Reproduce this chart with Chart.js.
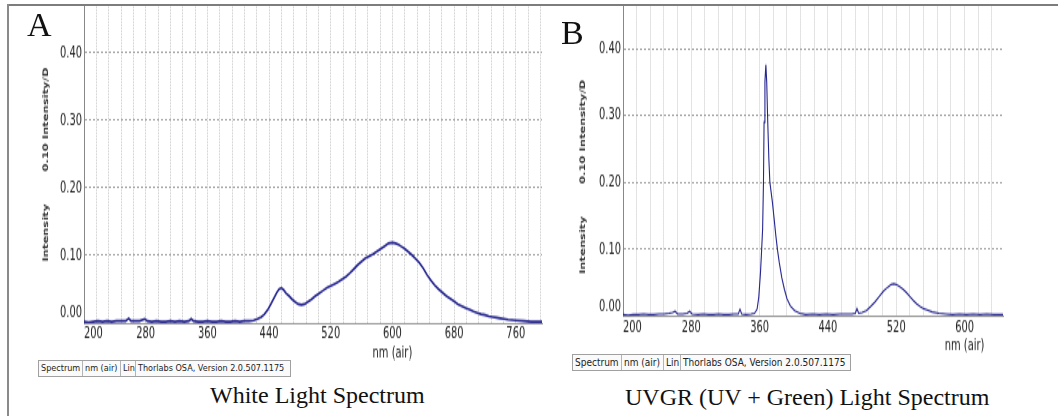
<!DOCTYPE html>
<html>
<head>
<meta charset="utf-8">
<script src="https://cdn.jsdelivr.net/npm/chart.js@4.4.1/dist/chart.umd.min.js"></script>
<style>
  body { margin: 0; background: #fff; width: 1058px; height: 416px; overflow: hidden; position: relative; }
  .frame-top { position: absolute; left: 7px; top: 4px; width: 1051px; height: 2px; background: #7d7d7d; z-index: 5; }
  .frame-left { position: absolute; left: 7px; top: 4px; width: 2px; height: 412px; background: #8a8a8a; z-index: 5; }
  /* the original screenshot of the OSA software is stretched vertically */
  .plot { position: absolute; top: 5px; height: 237px; transform: scaleY(1.5); transform-origin: 0 0; }
  #plotA { left: 8px; width: 542px; }
  #plotB { left: 548px; width: 463px; }
  .letter { position: absolute; font: 34px/34px 'Liberation Serif', 'Times New Roman', serif; color: #111; }
  .caption { position: absolute; font: 24px/24px 'Liberation Serif', 'Times New Roman', serif; color: #111; white-space: nowrap; }
  .info { position: absolute; display: flex; height: 17px; box-sizing: border-box; border: 1px solid #a0a0a0; background: #fafafa;
          font-family: 'DejaVu Sans Condensed', 'Liberation Sans', sans-serif; color: #222; }
  .info span { box-sizing: border-box; border-left: 1px solid #b4b4b4; padding-left: 2px; line-height: 15px; white-space: nowrap; overflow: hidden; }
  .info span:first-child { border-left: none; }
  #infoA { left: 38px; top: 360px; font-size: 9px; }
  #infoB { left: 572px; top: 354px; font-size: 10px; }
</style>
</head>
<body>
<div class="plot" id="plotA"><canvas id="chartA"></canvas></div>
<div class="plot" id="plotB"><canvas id="chartB"></canvas></div>
<div class="frame-top"></div>
<div class="frame-left"></div>

<div class="letter" style="left:27px; top:8px;">A</div>
<div class="letter" style="left:561px; top:16px;">B</div>

<div class="info" id="infoA"><span style="width:43px">Spectrum</span><span style="width:38px">nm (air)</span><span style="width:15px">Lin</span><span style="width:155px">Thorlabs OSA, Version 2.0.507.1175</span></div>
<div class="info" id="infoB"><span style="width:48px">Spectrum</span><span style="width:42px">nm (air)</span><span style="width:17px">Lin</span><span style="width:170px">Thorlabs OSA, Version 2.0.507.1175</span></div>

<div class="caption" style="left:210px; top:383px;">White Light Spectrum</div>
<div class="caption" style="left:625px; top:385px;">UVGR (UV + Green) Light Spectrum</div>

<script>
// --- DATA ---
const whiteNm = [200, 206, 212, 218, 224, 230, 236, 242, 248, 254, 258, 261, 266, 272, 279, 282, 288, 294, 300, 306,
  312, 318, 324, 330, 336, 339, 342, 348, 354, 360, 366, 372, 378, 384, 390, 396, 402, 408, 414, 420,
  425, 430, 434, 438, 442, 446, 450, 453, 456, 459, 462, 466, 470, 474, 478, 482, 486, 490, 495, 500,
  505, 510, 515, 520, 525, 530, 535, 540, 545, 550, 555, 560, 565, 570, 575, 580, 585, 590, 595, 600,
  604, 608, 612, 616, 620, 625, 630, 635, 640, 645, 650, 655, 660, 665, 670, 675, 680, 685, 690, 695,
  700, 705, 710, 715, 720, 725, 730, 735, 740, 745, 750, 760, 770, 780, 794];
const whiteIntensity = [0.002, 0.001, 0.002, 0.003, 0.002, 0.003, 0.002, 0.003, 0.003, 0.003, 0.007, 0.003, 0.003, 0.003, 0.006, 0.003, 0.002, 0.003, 0.002, 0.002,
  0.003, 0.002, 0.003, 0.002, 0.003, 0.006, 0.003, 0.002, 0.002, 0.003, 0.002, 0.002, 0.003, 0.002, 0.002, 0.003, 0.002, 0.003, 0.003, 0.004,
  0.006, 0.009, 0.013, 0.019, 0.027, 0.036, 0.045, 0.050, 0.052, 0.049, 0.044, 0.040, 0.035, 0.031, 0.028, 0.027, 0.028, 0.031, 0.035, 0.040,
  0.044, 0.048, 0.052, 0.055, 0.058, 0.061, 0.065, 0.069, 0.074, 0.080, 0.086, 0.091, 0.096, 0.099, 0.102, 0.106, 0.110, 0.114, 0.118, 0.119,
  0.118, 0.116, 0.113, 0.110, 0.106, 0.101, 0.095, 0.089, 0.081, 0.071, 0.063, 0.056, 0.050, 0.045, 0.040, 0.036, 0.032, 0.028, 0.025, 0.022,
  0.020, 0.017, 0.015, 0.013, 0.012, 0.010, 0.009, 0.008, 0.007, 0.006, 0.005, 0.004, 0.003, 0.002, 0.002];

const uvgrNm = [200, 206, 212, 218, 224, 230, 236, 242, 248, 254, 258, 261, 264, 270, 275, 278, 281, 288, 294, 300,
  306, 312, 318, 324, 330, 335, 337, 339, 344, 350, 354, 357, 359, 361, 362, 363.5, 364.5, 365.2, 366.2, 367.3,
  368.3, 369.5, 370.8, 372, 373.5, 375, 377, 379, 381, 383, 386, 389, 392, 396, 401, 407, 414, 422, 430, 438,
  446, 454, 462, 468, 472, 474, 476, 480, 485, 490, 495, 500, 505, 510, 514, 517, 520, 524, 528, 532,
  536, 540, 544, 548, 552, 556, 562, 570, 578, 586, 594, 602, 610, 618, 626, 634, 645];
const uvgrIntensity = [0.002, 0.001, 0.002, 0.002, 0.003, 0.002, 0.002, 0.003, 0.003, 0.004, 0.005, 0.007, 0.003, 0.003, 0.004, 0.007, 0.003, 0.002, 0.003, 0.002,
  0.002, 0.003, 0.002, 0.002, 0.003, 0.003, 0.010, 0.003, 0.002, 0.003, 0.004, 0.010, 0.028, 0.065, 0.090, 0.130, 0.200, 0.290, 0.350, 0.376,
  0.350, 0.290, 0.235, 0.200, 0.185, 0.170, 0.145, 0.120, 0.098, 0.080, 0.057, 0.040, 0.026, 0.015, 0.008, 0.004, 0.002, 0.003, 0.002, 0.003,
  0.002, 0.003, 0.003, 0.003, 0.004, 0.011, 0.004, 0.005, 0.008, 0.014, 0.021, 0.029, 0.037, 0.043, 0.047, 0.048, 0.047, 0.044, 0.040, 0.035,
  0.029, 0.023, 0.018, 0.014, 0.011, 0.009, 0.006, 0.004, 0.003, 0.002, 0.003, 0.002, 0.003, 0.002, 0.003, 0.002, 0.002];

const yTickValues = [0, 0.1, 0.2, 0.3, 0.4];
const xTickLabels = [200, 280, 360, 440, 520, 600, 680, 760];
const xGridStep = 16;

// --- STYLE ---
const lineColor = '#26268f';
const tickFamily = "'DejaVu Sans Condensed', 'Liberation Sans', sans-serif";
const tickSize = 11;
const yTitle = 'Intensity' + ' '.repeat(8) + '0.10 Intensity/D';

// draws the "nm (air)" unit under the 600 tick, like the OSA software does
const unitLabel = {
  id: 'unitLabel',
  afterDraw(chart) {
    const { ctx, chartArea, scales } = chart;
    ctx.save();
    ctx.font = `${tickSize}px ${tickFamily}`;
    ctx.fillStyle = '#222';
    ctx.textAlign = 'center';
    ctx.textBaseline = 'middle';
    ctx.fillText('nm (air)', scales.x.getPixelForValue(600), chartArea.bottom + 20);
    ctx.restore();
  }
};

function makeSpectrumChart(canvasId, nm, intensity, o) {
  const gridValues = [];
  for (let v = xTickLabels[0]; v < o.xMax; v += xGridStep) gridValues.push(v);

  return new Chart(document.getElementById(canvasId), {
    type: 'line',
    data: {
      datasets: [{
        data: nm.map((x, i) => ({ x, y: intensity[i] })),
        borderColor: lineColor,
        borderWidth: o.lineWidth,
        pointRadius: 0,
        tension: 0,
        fill: false
      }]
    },
    options: {
      responsive: true,
      maintainAspectRatio: false,
      animation: false,
      layout: { padding: { left: 0, right: 8, top: 0, bottom: 0 } },
      plugins: { legend: { display: false }, tooltip: { enabled: false } },
      scales: {
        x: {
          type: 'linear',
          min: xTickLabels[0],
          max: o.xMax,
          afterBuildTicks: (axis) => { axis.ticks = gridValues.map(v => ({ value: v })); },
          afterFit: (scale) => { scale.height = o.axisHeight; scale.paddingLeft = 0; scale.paddingRight = 0; },
          grid: { color: '#c8c8c8', lineWidth: 1, drawTicks: false },
          border: { display: true, color: '#999', width: 1, dash: [1, 1] },
          ticks: {
            autoSkip: false, maxRotation: 0, align: 'inner', padding: 1,
            color: '#222', font: { family: tickFamily, size: tickSize },
            callback: (value) => xTickLabels.includes(value) ? String(value) : ''
          }
        },
        y: {
          min: 0,
          max: o.yMax,
          afterBuildTicks: (axis) => { axis.ticks = yTickValues.map(v => ({ value: v })); },
          afterFit: (scale) => { scale.width = o.axisWidth; scale.paddingTop = 0; scale.paddingBottom = 0; },
          grid: { color: '#a0a0a0', lineWidth: 1, drawTicks: false },
          border: { display: true, color: '#888', width: 1, dash: [2, 2] },
          ticks: {
            padding: 2, color: '#222', font: { family: tickFamily, size: tickSize },
            // the 0.00 label sits a bit above its line in the original
            callback: (value) => value === 0 ? ['0.00', ''] : value.toFixed(2)
          },
          title: {
            display: true,
            text: o.title,
            color: '#333',
            font: { family: "'DejaVu Sans', Verdana, sans-serif", size: 7.7, weight: 'bold' },
            padding: { top: o.titlePad, bottom: 0 }
          }
        }
      }
    },
    plugins: [unitLabel]
  });
}

// --- CHARTS ---
makeSpectrumChart('chartA', whiteNm, whiteIntensity, {
  xMax: 794, yMax: 0.469, axisWidth: 76, axisHeight: 25, titlePad: 33.4, lineWidth: 1.6, title: yTitle
});
makeSpectrumChart('chartB', uvgrNm, uvgrIntensity, {
  xMax: 645, yMax: 0.464, axisWidth: 75, axisHeight: 29.7, titlePad: 30.4, lineWidth: 1.1, title: yTitle + ' '.repeat(8)
});
</script>
</body>
</html>
